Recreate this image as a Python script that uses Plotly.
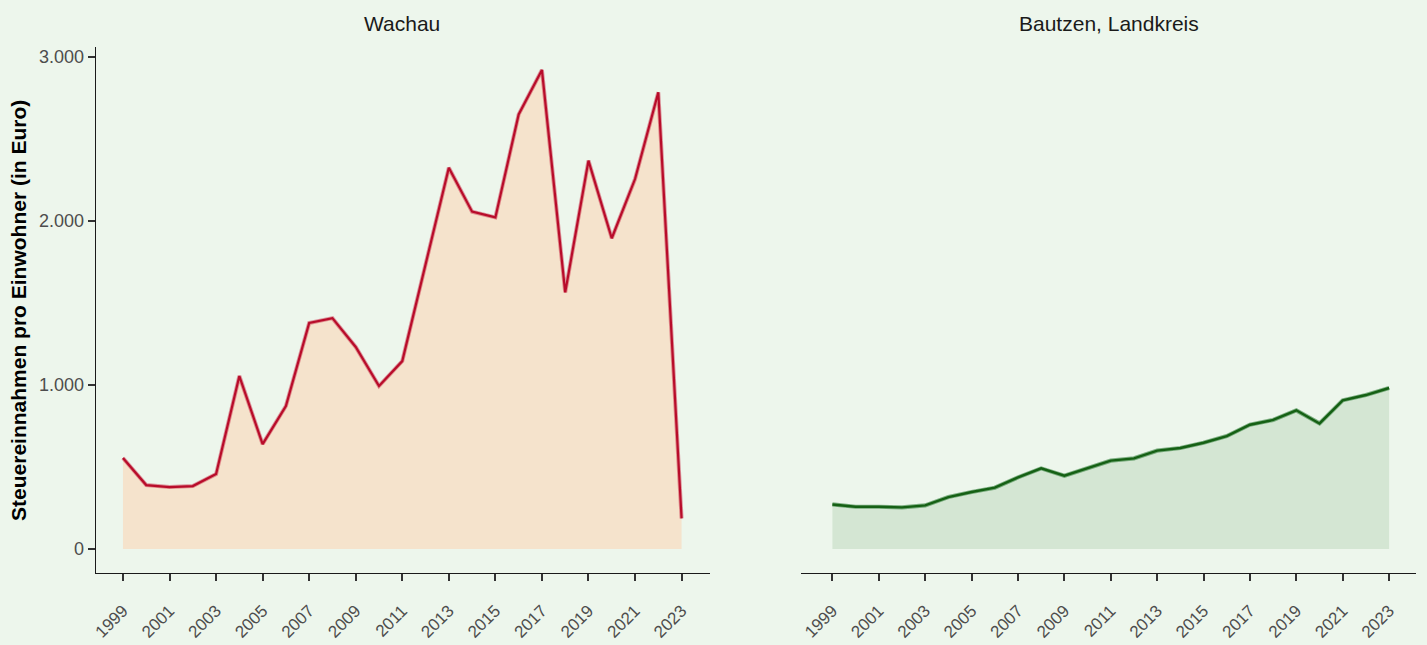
import plotly.graph_objects as go

years = list(range(1999, 2024))
wachau = [555, 390, 378, 384, 457, 1055, 640, 872, 1378, 1408, 1232, 994, 1146,
          1735, 2325, 2057, 2022, 2650, 2921, 1565, 2368, 1895, 2256, 2785, 187]
bautzen = [272, 258, 258, 254, 266, 317, 348, 374, 437, 492, 447, 492, 539,
           553, 600, 616, 648, 689, 758, 787, 846, 766, 907, 939, 982]
panel_titles = ["Wachau", "Bautzen, Landkreis"]
y_tickvals = [0, 1000, 2000, 3000]
y_ticktext = ["0", "1.000", "2.000", "3.000"]
x_tickvals = list(range(1999, 2024, 2))

BG = "#EDF6EC"
W, H = 1427, 645
FONT = "Liberation Sans, Arial, sans-serif"

fig = go.Figure()

# Left panel
fig.add_trace(go.Scatter(x=years, y=wachau, fill="tozeroy", fillcolor="#F5E3CC",
                         mode="none", hoverinfo="skip", xaxis="x", yaxis="y"))
fig.add_trace(go.Scatter(x=years, y=wachau, mode="lines",
                         line=dict(color="rgba(200,30,60,0.45)", width=4),
                         hoverinfo="skip", xaxis="x", yaxis="y"))
fig.add_trace(go.Scatter(x=years, y=wachau, mode="lines",
                         line=dict(color="#B80C2A", width=2.2),
                         xaxis="x", yaxis="y"))

# Right panel
fig.add_trace(go.Scatter(x=years, y=bautzen, fill="tozeroy", fillcolor="#D4E6D3",
                         mode="none", hoverinfo="skip", xaxis="x2", yaxis="y2"))
fig.add_trace(go.Scatter(x=years, y=bautzen, mode="lines",
                         line=dict(color="rgba(20,110,30,0.5)", width=4.2),
                         hoverinfo="skip", xaxis="x2", yaxis="y2"))
fig.add_trace(go.Scatter(x=years, y=bautzen, mode="lines",
                         line=dict(color="#156014", width=2.4),
                         xaxis="x2", yaxis="y2"))

ytick_font = dict(family=FONT, size=18, color="#4D4D4D")
xtick_font = dict(family=FONT, size=17, color="#4D4D4D")

xaxis_common = dict(tickvals=x_tickvals,
                    ticktext=[str(v) for v in x_tickvals], tickangle=-45,
                    showgrid=False, zeroline=False, showline=True, linecolor="#1a1a1a",
                    linewidth=1.2, ticks="outside", ticklen=7, tickwidth=2,
                    tickcolor="#333333", tickfont=xtick_font, ticklabelstandoff=13,
                    anchor="free", position=1 - 573 / H)

yrange = [-146, 3061]
L0 = 92

fig.update_layout(
    width=W, height=H,
    paper_bgcolor=BG, plot_bgcolor=BG,
    showlegend=False,
    margin=dict(l=0, r=0, t=0, b=0),
    xaxis=dict(domain=[L0 / W, 708 / W], range=[1997.79, 2024.2], **xaxis_common),
    xaxis2=dict(domain=[800 / W, 1416 / W], range=[1997.66, 2024.16], **xaxis_common),
    yaxis=dict(domain=[1 - 573 / H, 1 - 47 / H], range=yrange, tickvals=y_tickvals,
               ticktext=y_ticktext, showgrid=False, zeroline=False, showline=True,
               linecolor="#1a1a1a", linewidth=1.2, ticks="outside", ticklen=7,
               tickwidth=2, tickcolor="#333333", tickfont=ytick_font,
               anchor="free", position=L0 / W),
    yaxis2=dict(domain=[1 - 573 / H, 1 - 47 / H], range=yrange, showgrid=False,
                zeroline=False, showline=False, showticklabels=False, ticks="",
                anchor="free", position=800 / W),
    annotations=[
        dict(text="<b>Steuereinnahmen pro Einwohner (in Euro)</b>", x=15 / W,
             y=1 - 310 / H, xref="paper", yref="paper", showarrow=False, textangle=-90,
             xanchor="center", yanchor="middle",
             font=dict(family=FONT, size=21, color="#000000")),
        dict(text=panel_titles[0], x=(96 + 708) / 2 / W - 2 / W, y=1 - 23 / H, xref="paper",
             yref="paper", showarrow=False, xanchor="center", yanchor="middle",
             font=dict(family=FONT, size=21, color="#1a1a1a")),
        dict(text=panel_titles[1], x=(801 + 1415) / 2 / W, y=1 - 23 / H, xref="paper",
             yref="paper", showarrow=False, xanchor="center", yanchor="middle",
             font=dict(family=FONT, size=21, color="#1a1a1a")),
    ],
)

fig.write_html("out.html", config={"displayModeBar": False},
               post_script="document.body.style.margin='0px';document.body.style.overflow='hidden';")
